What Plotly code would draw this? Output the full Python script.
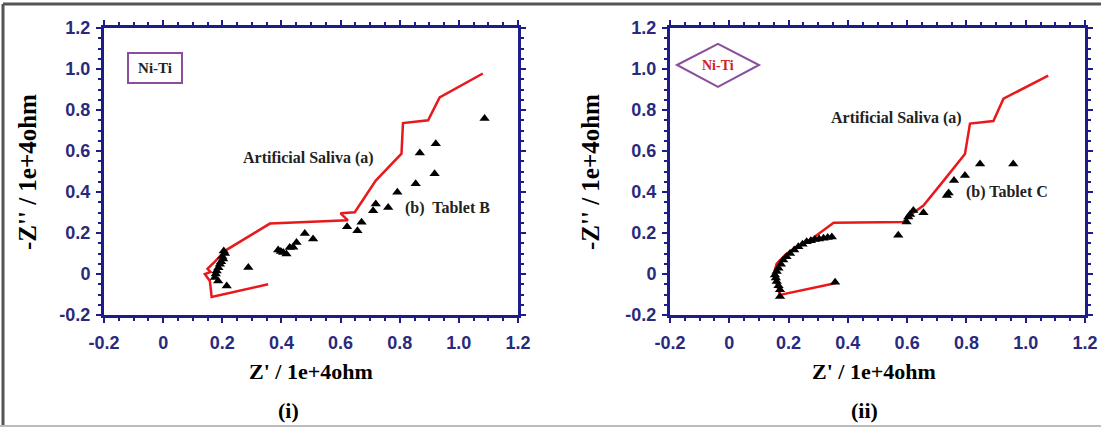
import plotly.graph_objects as go

# ---------------- data (units of 1e+4 ohm) ----------------
saliva_b_x = [0.355, 0.164, 0.158, 0.141, 0.160, 0.150, 0.175, 0.209, 0.361, 0.625, 0.600, 0.648, 0.719, 0.806, 0.811, 0.896, 0.935, 1.081]
saliva_b_y = [-0.050, -0.112, -0.034, 0.000, 0.010, 0.025, 0.060, 0.113, 0.246, 0.262, 0.296, 0.301, 0.456, 0.587, 0.736, 0.750, 0.861, 0.978]

tablet_b_x = [1.087, 0.922, 0.868, 0.918, 0.854, 0.792, 0.761, 0.719, 0.710, 0.671, 0.657, 0.622,
              0.507, 0.479, 0.451, 0.428, 0.406, 0.389, 0.417, 0.440, 0.398, 0.288, 0.215,
              0.209, 0.203, 0.192, 0.181, 0.175, 0.186, 0.200, 0.187, 0.178, 0.196, 0.205]
tablet_b_y = [0.758, 0.635, 0.590, 0.489, 0.440, 0.399, 0.325, 0.342, 0.309, 0.252, 0.211, 0.231,
              0.171, 0.198, 0.154, 0.129, 0.105, 0.117, 0.097, 0.130, 0.110, 0.032, -0.058,
              0.100, 0.073, 0.048, 0.015, -0.017, -0.034, 0.085, 0.030, 0.000, 0.060, 0.112]

saliva_c_x = [0.357, 0.171, 0.160, 0.149, 0.160, 0.190, 0.230, 0.272, 0.352, 0.587, 0.621, 0.655, 0.728, 0.795, 0.812, 0.891, 0.925, 1.076]
saliva_c_y = [-0.045, -0.102, -0.050, -0.005, 0.050, 0.095, 0.135, 0.165, 0.250, 0.254, 0.299, 0.334, 0.464, 0.585, 0.734, 0.746, 0.855, 0.968]

tablet_c_x = [0.958, 0.846, 0.795, 0.758, 0.734, 0.740, 0.655, 0.621, 0.604, 0.598, 0.610, 0.570,
              0.346, 0.332, 0.318, 0.303, 0.289, 0.275, 0.261, 0.247, 0.233, 0.219, 0.205, 0.193,
              0.182, 0.174, 0.166, 0.160, 0.154, 0.157, 0.160, 0.166, 0.171, 0.171, 0.357]
tablet_c_y = [0.536, 0.536, 0.480, 0.456, 0.383, 0.395, 0.299, 0.310, 0.278, 0.254, 0.290, 0.189,
              0.181, 0.178, 0.175, 0.171, 0.168, 0.162, 0.157, 0.145, 0.133, 0.117, 0.100, 0.084,
              0.068, 0.048, 0.028, 0.012, -0.005, -0.020, -0.037, -0.057, -0.077, -0.110, -0.040]

tick_vals = [-0.2, 0, 0.2, 0.4, 0.6, 0.8, 1.0, 1.2]
tick_text = ["-0.2", "0", "0.2", "0.4", "0.6", "0.8", "1.0", "1.2"]

# ---------------- figure ----------------
W, H = 1101, 427
RED = "#e8191c"
NAVY = "#1c1c8a"
LABEL = "#2a2a7c"
SERIF = "Liberation Serif, Times New Roman, serif"
SANS = "Liberation Sans, Arial, sans-serif"

fig = go.Figure()
for xs, ys, ax in [(saliva_b_x, saliva_b_y, "x"), (saliva_c_x, saliva_c_y, "x2")]:
    fig.add_trace(go.Scatter(x=xs, y=ys, mode="lines", xaxis=ax, yaxis=ax.replace("x", "y"),
                             line=dict(color=RED, width=2.5), showlegend=False))
for xs, ys, ax in [(tablet_b_x, tablet_b_y, "x"), (tablet_c_x, tablet_c_y, "x2")]:
    fig.add_trace(go.Scatter(x=xs, y=ys, mode="markers", xaxis=ax, yaxis=ax.replace("x", "y"),
                             marker=dict(symbol="triangle-up", size=9, color="black"),
                             showlegend=False))

def px(v):
    return v / W

def py(v):
    return 1 - v / H

axis_common = dict(
    range=[-0.2, 1.2], tickvals=tick_vals, ticktext=tick_text, automargin=False,
    showline=True, linecolor=NAVY, linewidth=3, mirror="allticks",
    ticks="outside", ticklen=5, tickwidth=2, tickcolor=NAVY,
    minor=dict(dtick=0.05, ticks="outside", ticklen=3, tickwidth=1.5, tickcolor=NAVY),
    showgrid=False, zeroline=False,
    tickfont=dict(family=SANS, size=18, color=LABEL, weight="bold"),
)
ydom = [py(315), py(28)]
fig.update_layout(
    width=W, height=H, margin=dict(l=0, r=0, t=0, b=0, pad=0, autoexpand=False),
    paper_bgcolor="white", plot_bgcolor="white",
    xaxis=dict(domain=[px(104), px(518)], anchor="y", ticklabelstandoff=4, **axis_common),
    yaxis=dict(domain=ydom, anchor="x", ticklabelstandoff=2, **axis_common),
    xaxis2=dict(domain=[px(670), px(1085)], anchor="y2", ticklabelstandoff=4, **axis_common),
    yaxis2=dict(domain=ydom, anchor="x2", ticklabelstandoff=2, **axis_common),
)

C = dict(xanchor="center", yanchor="middle", showarrow=False)
ann = []
title_font = dict(family=SERIF, size=22, color="black", weight="bold")
ytitle_font = dict(family=SERIF, size=25, color="black", weight="bold")
for cx, ycx in [(311, 27), (874, 590)]:
    ann.append(dict(text="Z' / 1e+4ohm", x=px(cx), y=py(371), xref="paper", yref="paper",
                    font=title_font, **C))
    ann.append(dict(text="-Z'' / 1e+4ohm", x=px(ycx), y=py(172), xref="paper", yref="paper",
                    textangle=-90, font=ytitle_font, **C))
ann.append(dict(text="(i)", x=px(288), y=py(410), xref="paper", yref="paper", font=title_font, **C))
ann.append(dict(text="(ii)", x=px(864), y=py(410), xref="paper", yref="paper", font=title_font, **C))

lab_font = dict(family=SERIF, size=16, color="#222", weight="bold")
ann += [
    dict(text="Artificial Saliva (a)", x=0.493, y=0.568, xref="x", yref="y", font=lab_font, **C),
    dict(text="(b)  Tablet B", x=0.962, y=0.324, xref="x", yref="y", font=lab_font, **C),
    dict(text="Artificial Saliva (a)", x=0.565, y=0.763, xref="x2", yref="y2", font=lab_font, **C),
    dict(text="(b) Tablet C", x=0.936, y=0.399, xref="x2", yref="y2", font=lab_font, **C),
    dict(text="Ni-Ti", x=px(155), y=py(68), xref="paper", yref="paper",
         font=dict(family=SERIF, size=15, color="#222", weight="bold"),
         bordercolor="#8a4f9c", borderwidth=2, width=50, height=26, borderpad=1, bgcolor="white", **C),
    dict(text="Ni-Ti", x=px(718), y=py(66), xref="paper", yref="paper",
         font=dict(family=SERIF, size=14, color="#d42020", weight="bold"), **C),
]
fig.update_layout(annotations=ann)

# diamond around the second "Ni-Ti" and the outer frame of the picture
d = [(677, 65), (718, 44), (759, 65), (718, 87)]
path = "M " + " L ".join(f"{px(a):.4f},{py(b):.4f}" for a, b in d) + " Z"
shapes = [
    dict(type="path", path=path, xref="paper", yref="paper", line=dict(color="#8a4f9c", width=2)),
    dict(type="line", x0=px(3), x1=1, y0=py(4), y1=py(4), xref="paper", yref="paper",
         line=dict(color="#555", width=3)),
    dict(type="line", x0=px(3), x1=px(3), y0=py(4), y1=0, xref="paper", yref="paper",
         line=dict(color="#555", width=3)),
    dict(type="line", x0=0, x1=1, y0=py(426), y1=py(426), xref="paper", yref="paper",
         line=dict(color="#bbb", width=2)),
]
fig.update_layout(shapes=shapes)

fig.write_html("out.html", config={"displayModeBar": False},
               post_script="document.body.style.margin='0';document.body.style.padding='0';"
                           "document.documentElement.style.overflow='hidden';")
